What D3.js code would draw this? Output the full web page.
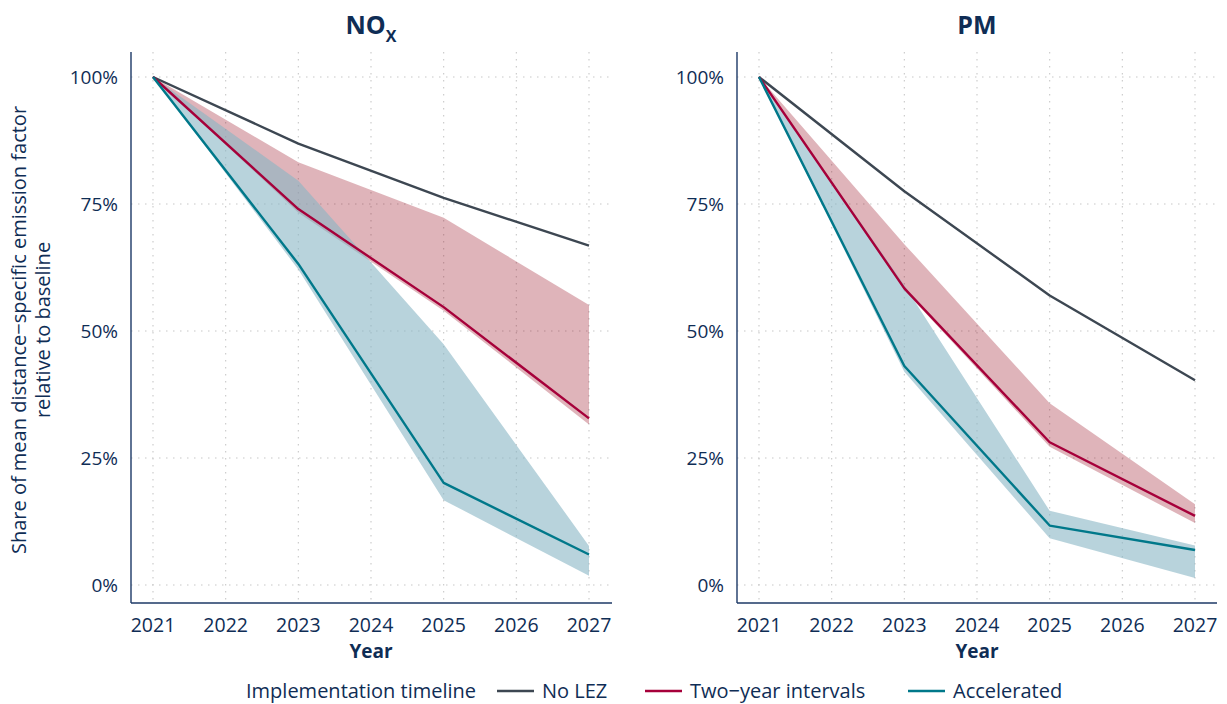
<!DOCTYPE html>
<html>
<head>
<meta charset="utf-8">
<script src="https://cdn.jsdelivr.net/npm/d3@7"></script>
<style>
  body { margin: 0; background: #fff; }
  text { font-family: "Open Sans", sans-serif; fill: #0f2d55; }
</style>
</head>
<body>
<svg id="chart" width="1227" height="704"></svg>
<script>
// data (share of baseline, %)
const years = [2021, 2023, 2025, 2027];
const yearTicks = [2021, 2022, 2023, 2024, 2025, 2026, 2027];
const yTicks = [0, 25, 50, 75, 100];

const noxNoLez = [100, 86.9, 76.2, 66.8];
const noxTwoYear = [100, 74.0, 54.7, 32.8];
const noxTwoYearHi = [100, 83.2, 72.3, 55.1];
const noxTwoYearLo = [100, 73.3, 54.0, 31.6];
const noxAccel = [100, 63.2, 20.1, 6.0];
const noxAccelHi = [100, 79.6, 47.4, 7.7];
const noxAccelLo = [100, 62.1, 16.7, 1.8];

const pmNoLez = [100, 77.5, 57.0, 40.3];
const pmTwoYear = [100, 58.4, 28.1, 13.6];
const pmTwoYearHi = [100, 67.1, 35.8, 15.9];
const pmTwoYearLo = [100, 58.0, 27.2, 12.2];
const pmAccel = [100, 43.1, 11.7, 6.9];
const pmAccelHi = [100, 59.0, 14.6, 7.8];
const pmAccelLo = [100, 42.0, 9.2, 1.4];

const seriesNames = ["No LEZ", "Two\u2212year intervals", "Accelerated"];
const seriesColors = ["#3d4752", "#a6003a", "#00788a"];

const svg = d3.select("#chart");
const navy = "#1c3866";

const y = d3.scaleLinear().domain([0, 100]).range([585, 77]);

function drawPanel(opts) {
    const x = d3.scaleLinear().domain([2021, 2027]).range([opts.x0, opts.x1]);
    const g = svg.append("g");

    // grid
    g.selectAll(".vgrid").data(yearTicks).enter().append("line")
        .attr("x1", d => x(d)).attr("x2", d => x(d))
        .attr("y1", 52).attr("y2", 603)
        .attr("stroke", "#c8c8c8").attr("stroke-width", 1.1)
        .attr("stroke-dasharray", "1.5,5.5");
    g.selectAll(".hgrid").data(yTicks).enter().append("line")
        .attr("x1", opts.axisX).attr("x2", opts.right)
        .attr("y1", d => y(d)).attr("y2", d => y(d))
        .attr("stroke", "#c8c8c8").attr("stroke-width", 1.1)
        .attr("stroke-dasharray", "1.5,5.5");

    // ribbons
    const area = (hi, lo) => d3.area()
        .x((d, i) => x(years[i]))
        .y0((d, i) => y(lo[i]))
        .y1((d, i) => y(hi[i]))(years);
    g.append("path").attr("d", area(opts.twoHi, opts.twoLo))
        .attr("fill", "#94081c").attr("fill-opacity", 0.3);
    g.append("path").attr("d", area(opts.accHi, opts.accLo))
        .attr("fill", "#89b6c5").attr("fill-opacity", 0.6);

    // lines
    const line = vals => d3.line()
        .x((d, i) => x(years[i]))
        .y((d, i) => y(vals[i]))(years);
    [opts.noLez, opts.two, opts.acc].forEach((vals, k) => {
        g.append("path").attr("d", line(vals))
            .attr("fill", "none").attr("stroke", seriesColors[k])
            .attr("stroke-width", 2.4).attr("stroke-linejoin", "round");
    });

    // axes lines
    g.append("line").attr("x1", opts.axisX).attr("x2", opts.axisX)
        .attr("y1", 52).attr("y2", 603).attr("stroke", navy).attr("stroke-width", 1.4);
    g.append("line").attr("x1", opts.axisX).attr("x2", opts.right)
        .attr("y1", 603).attr("y2", 603).attr("stroke", navy).attr("stroke-width", 1.4);

    // tick labels
    g.selectAll(".ylab").data(yTicks).enter().append("text")
        .attr("x", opts.axisX - 13).attr("y", d => y(d))
        .attr("dy", "0.36em").attr("text-anchor", "end")
        .style("font-size", "19px").text(d => d + "%");
    g.selectAll(".xlab").data(yearTicks).enter().append("text")
        .attr("x", d => x(d)).attr("y", 632)
        .attr("text-anchor", "middle")
        .style("font-size", "19.5px").text(d => d);

    g.append("text").attr("x", (opts.x0 + opts.x1) / 2).attr("y", 658)
        .attr("text-anchor", "middle").style("font-size", "19px")
        .style("font-weight", "bold").text("Year");

    // title
    const t = g.append("text").attr("x", (opts.x0 + opts.x1) / 2).attr("y", 34)
        .attr("text-anchor", "middle").style("font-size", "25px")
        .style("font-weight", "bold");
    t.append("tspan").text(opts.title);
    if (opts.sub) {
        t.append("tspan").attr("dy", 8).style("font-size", "16px").text(opts.sub);
    }
}

drawPanel({
    x0: 153, x1: 589, axisX: 131, right: 612, title: "NO", sub: "X",
    noLez: noxNoLez, two: noxTwoYear, twoHi: noxTwoYearHi, twoLo: noxTwoYearLo,
    acc: noxAccel, accHi: noxAccelHi, accLo: noxAccelLo
});
drawPanel({
    x0: 759, x1: 1195, axisX: 737, right: 1217, title: "PM", sub: null,
    noLez: pmNoLez, two: pmTwoYear, twoHi: pmTwoYearHi, twoLo: pmTwoYearLo,
    acc: pmAccel, accHi: pmAccelHi, accLo: pmAccelLo
});

// y axis title
const yt = svg.append("text")
    .attr("transform", "translate(26,330) rotate(-90)")
    .attr("text-anchor", "middle").style("font-size", "20px");
yt.append("tspan").attr("x", 0).attr("dy", 0).text("Share of mean distance\u2212specific emission factor");
yt.append("tspan").attr("x", 0).attr("dy", 24).text("relative to baseline");

// legend
const legend = svg.append("g");
legend.append("text").attr("x", 246).attr("y", 698)
    .style("font-size", "20px").text("Implementation timeline");
const keyX = [497, 645, 908];
seriesNames.forEach((name, i) => {
    legend.append("line").attr("x1", keyX[i]).attr("x2", keyX[i] + 37)
        .attr("y1", 691).attr("y2", 691)
        .attr("stroke", seriesColors[i]).attr("stroke-width", 2.6);
    legend.append("text").attr("x", keyX[i] + 45).attr("y", 698)
        .style("font-size", "20px").text(name);
});
</script>
</body>
</html>
